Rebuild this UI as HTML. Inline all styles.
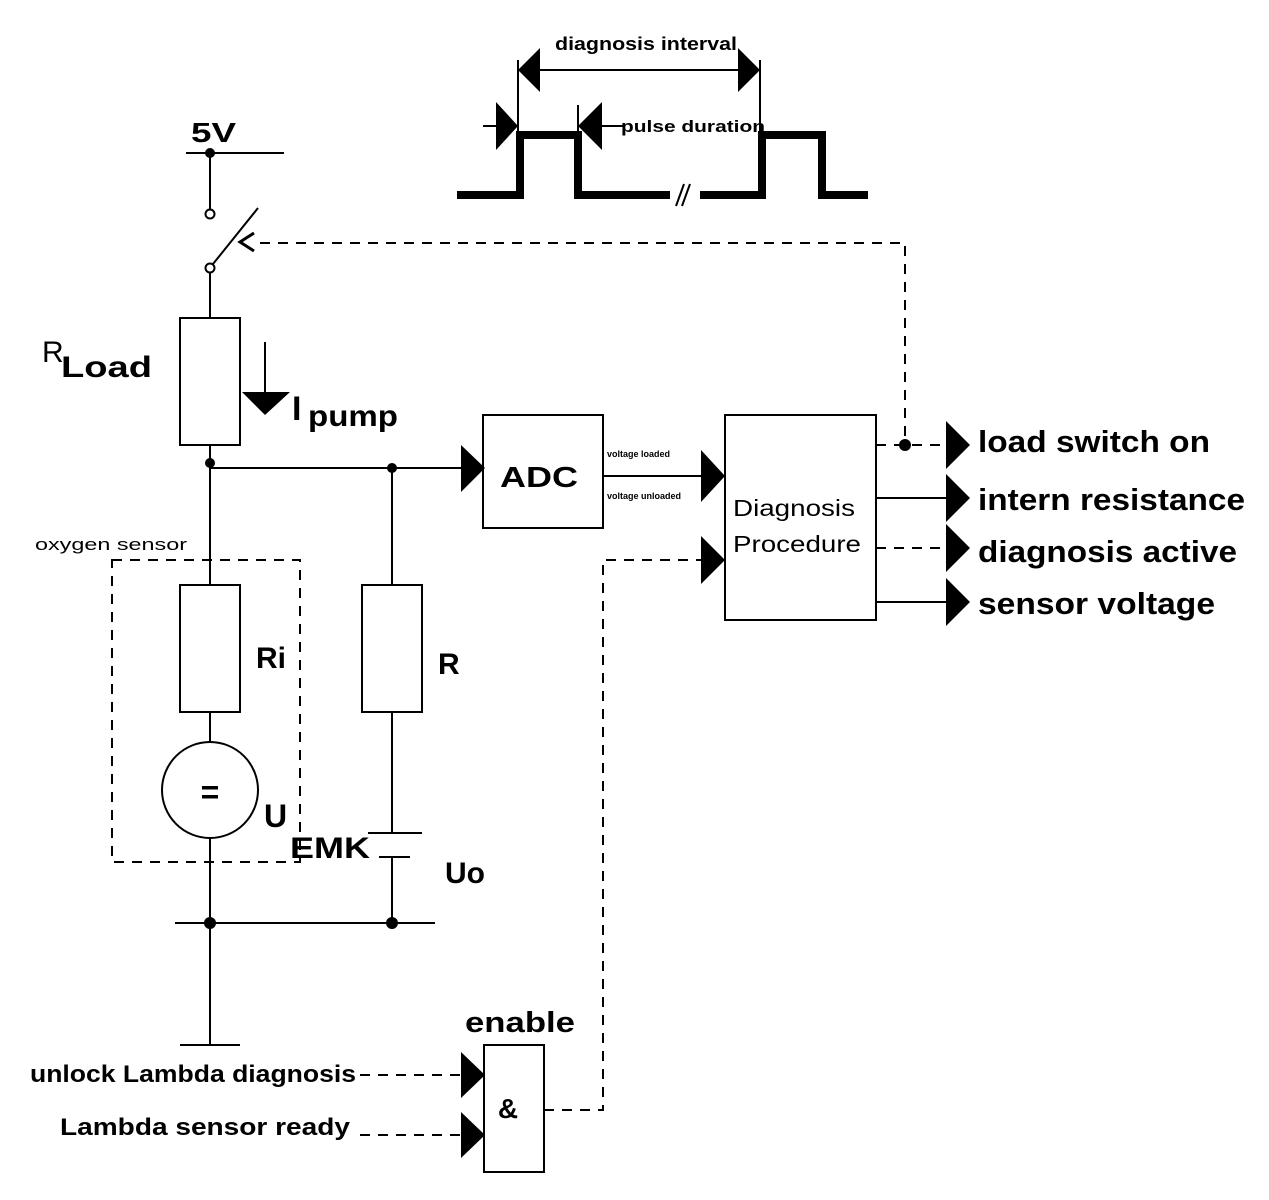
<!DOCTYPE html>
<html><head><meta charset="utf-8"><style>
html,body{margin:0;padding:0;background:#fff}
svg{display:block}
text{font-family:"Liberation Sans",Arial,sans-serif;fill:#000}
</style></head><body>
<svg width="1269" height="1200" viewBox="0 0 1269 1200" xmlns="http://www.w3.org/2000/svg">
<g stroke="#000" fill="none" stroke-width="2">
<line x1="518" y1="60" x2="518" y2="132"/>
<line x1="760" y1="60" x2="760" y2="132"/>
<line x1="538" y1="70" x2="740" y2="70"/>
<line x1="578" y1="105" x2="578" y2="132"/>
<line x1="483" y1="126" x2="497" y2="126"/>
<line x1="600" y1="126" x2="625" y2="126"/>
<polyline stroke-width="8" stroke-linejoin="miter" points="457,195 520,195 520,135 578,135 578,195 670,195"/>
<polyline stroke-width="8" points="700,195 762,195 762,135 822,135 822,195 868,195"/>
<line x1="676" y1="206" x2="684" y2="184"/>
<line x1="682" y1="206" x2="690" y2="184"/>
</g>
<g fill="#000">
<polygon points="518,70 540,48 540,92"/>
<polygon points="760,70 738,48 738,92"/>
<polygon points="518,126 496,102 496,150"/>
<polygon points="578,126 602,102 602,150"/>
</g>
<text x="555" y="50" font-size="18" font-weight="bold" textLength="182" lengthAdjust="spacingAndGlyphs">diagnosis interval</text>
<text x="621" y="132" font-size="17" font-weight="bold" textLength="144" lengthAdjust="spacingAndGlyphs">pulse duration</text>

<g stroke="#000" fill="none" stroke-width="2">
<line x1="186" y1="153" x2="284" y2="153"/>
<line x1="210" y1="153" x2="210" y2="210"/>
<circle cx="210" cy="214" r="4.5" fill="#fff"/>
<circle cx="210" cy="268" r="4.5" fill="#fff"/>
<line x1="213" y1="264" x2="258" y2="208"/>
<polyline points="254,233 240,242 254,251" stroke-width="3"/>
<line x1="210" y1="273" x2="210" y2="318"/>
<rect x="180" y="318" width="60" height="127"/>
<line x1="265" y1="342" x2="265" y2="395"/>
<line x1="210" y1="445" x2="210" y2="585"/>
<line x1="210" y1="468" x2="463" y2="468"/>
<rect x="180" y="585" width="60" height="127"/>
<line x1="210" y1="712" x2="210" y2="742"/>
<circle cx="210" cy="790" r="48"/>
<line x1="210" y1="838" x2="210" y2="1045"/>
<line x1="180" y1="1045" x2="240" y2="1045"/>
<line x1="175" y1="923" x2="435" y2="923"/>
<line x1="392" y1="468" x2="392" y2="585"/>
<rect x="362" y="585" width="60" height="127"/>
<line x1="392" y1="712" x2="392" y2="833"/>
<line x1="368" y1="833" x2="422" y2="833"/>
<line x1="379" y1="857" x2="410" y2="857"/>
<line x1="392" y1="857" x2="392" y2="923"/>
<rect x="483" y="415" width="120" height="113"/>
<line x1="603" y1="476" x2="702" y2="476"/>
<rect x="725" y="415" width="151" height="205"/>
<line x1="876" y1="498" x2="948" y2="498"/>
<line x1="876" y1="602" x2="948" y2="602"/>
<rect x="484" y="1045" width="60" height="127"/>
</g>
<g stroke="#000" fill="none" stroke-width="2" stroke-dasharray="10,8">
<polyline points="260,243 905,243 905,440"/>
<line x1="876" y1="445" x2="946" y2="445"/>
<line x1="876" y1="548" x2="946" y2="548"/>
<polyline points="544,1110 603,1110 603,560 702,560"/>
<line x1="360" y1="1075" x2="462" y2="1075"/>
<line x1="360" y1="1135" x2="462" y2="1135"/>
<rect x="112" y="560" width="188" height="302"/>
</g>
<g fill="#000">
<circle cx="210" cy="153" r="5"/>
<circle cx="210" cy="463" r="5"/>
<circle cx="392" cy="468" r="5"/>
<circle cx="210" cy="923" r="6"/>
<circle cx="392" cy="923" r="6"/>
<circle cx="905" cy="445" r="6"/>
<polygon points="242,392 290,392 265,415"/>
<polygon points="485,468 461,445 461,492"/>
<polygon points="725,476 701,450 701,502"/>
<polygon points="725,560 701,536 701,584"/>
<polygon points="970,445 946,421 946,469"/>
<polygon points="970,498 946,474 946,522"/>
<polygon points="970,548 946,524 946,572"/>
<polygon points="970,602 946,578 946,626"/>
<polygon points="485,1075 461,1052 461,1098"/>
<polygon points="485,1135 461,1112 461,1158"/>
</g>
<text x="191" y="142" font-size="28" font-weight="bold" textLength="45" lengthAdjust="spacingAndGlyphs">5V</text>
<text x="42" y="362" font-size="30">R</text>
<text x="61" y="377" font-size="30" font-weight="bold" textLength="91" lengthAdjust="spacingAndGlyphs">Load</text>
<text x="292" y="420" font-size="34" font-weight="bold">I</text>
<text x="308" y="426" font-size="30" font-weight="bold" textLength="90" lengthAdjust="spacingAndGlyphs">pump</text>
<text x="35" y="550" font-size="17" textLength="152" lengthAdjust="spacingAndGlyphs">oxygen sensor</text>
<text x="256" y="668" font-size="30" font-weight="bold">Ri</text>
<text x="438" y="674" font-size="30" font-weight="bold">R</text>
<text x="210" y="803" font-size="32" font-weight="bold" text-anchor="middle">=</text>
<text x="264" y="827" font-size="32" font-weight="bold">U</text>
<text x="290" y="858" font-size="30" font-weight="bold" textLength="80" lengthAdjust="spacingAndGlyphs">EMK</text>
<text x="445" y="883" font-size="30" font-weight="bold">Uo</text>
<text x="500" y="487" font-size="29" font-weight="bold" textLength="78" lengthAdjust="spacingAndGlyphs">ADC</text>
<text x="607" y="457" font-size="9" font-weight="bold">voltage loaded</text>
<text x="607" y="499" font-size="9" font-weight="bold">voltage unloaded</text>
<text x="733" y="516" font-size="23" textLength="122" lengthAdjust="spacingAndGlyphs">Diagnosis</text>
<text x="733" y="552" font-size="23" textLength="128" lengthAdjust="spacingAndGlyphs">Procedure</text>
<text x="978" y="452" font-size="31" font-weight="bold" textLength="232" lengthAdjust="spacingAndGlyphs">load switch on</text>
<text x="978" y="510" font-size="31" font-weight="bold" textLength="267" lengthAdjust="spacingAndGlyphs">intern resistance</text>
<text x="978" y="562" font-size="31" font-weight="bold" textLength="259" lengthAdjust="spacingAndGlyphs">diagnosis active</text>
<text x="978" y="614" font-size="31" font-weight="bold" textLength="237" lengthAdjust="spacingAndGlyphs">sensor voltage</text>
<text x="465" y="1032" font-size="29" font-weight="bold" textLength="110" lengthAdjust="spacingAndGlyphs">enable</text>
<text x="508" y="1118" font-size="28" font-weight="bold" text-anchor="middle">&amp;</text>
<text x="30" y="1082" font-size="24" font-weight="bold" textLength="326" lengthAdjust="spacingAndGlyphs">unlock Lambda diagnosis</text>
<text x="60" y="1135" font-size="24" font-weight="bold" textLength="290" lengthAdjust="spacingAndGlyphs">Lambda sensor ready</text>
</svg>
</body></html>
